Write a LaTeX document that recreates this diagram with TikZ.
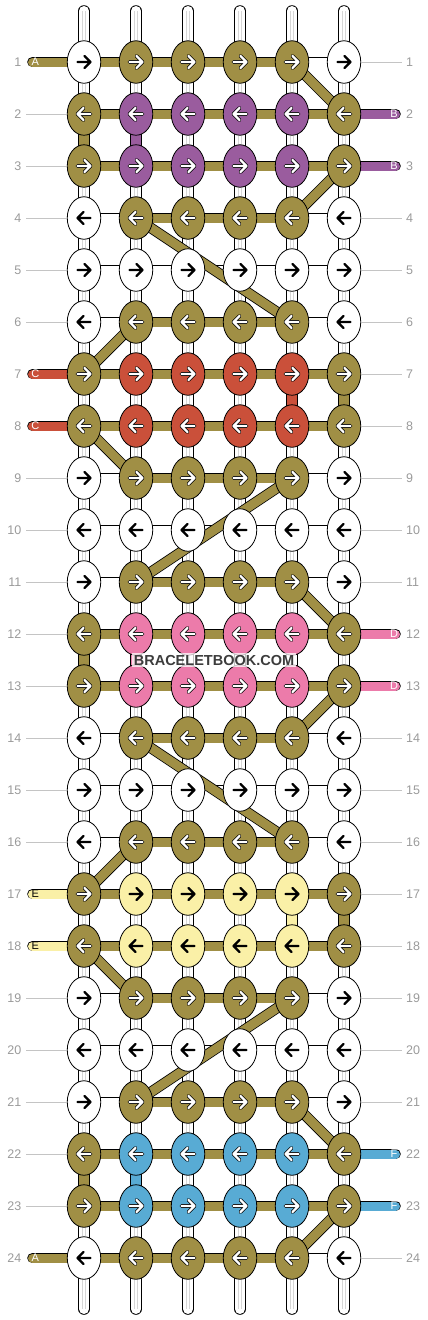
\documentclass[tikz,border=0pt]{standalone}
\usepackage{fontspec}
\setmainfont{Liberation Sans}
\usepackage{tikz}
\usetikzlibrary{shapes.geometric, calc}

\definecolor{cO}{HTML}{A08F45}
\definecolor{cW}{HTML}{FFFFFF}
\definecolor{cP}{HTML}{9A5C9E}
\definecolor{cR}{HTML}{CA503A}
\definecolor{cK}{HTML}{EC7BAA}
\definecolor{cY}{HTML}{FAF0A7}
\definecolor{cB}{HTML}{58ABD4}
% arrow, arrow rim and tag letter per knot colour
\colorlet{aO}{white}\colorlet{aP}{white}\colorlet{aR}{white}\colorlet{aK}{white}\colorlet{aB}{white}
\colorlet{aW}{black}\colorlet{aY}{black}
\colorlet{oO}{black}\colorlet{oP}{black}\colorlet{oR}{black}\colorlet{oK}{black}\colorlet{oB}{black}
\colorlet{oW}{cW}\colorlet{oY}{cY}
\colorlet{tO}{white}\colorlet{tP}{white}\colorlet{tR}{white}\colorlet{tK}{white}\colorlet{tB}{white}
\colorlet{tY}{black}
\definecolor{numgray}{HTML}{9A9A9A}
\definecolor{rulegray}{HTML}{C4C4C4}
\definecolor{stripegray}{HTML}{D6D6D6}
\definecolor{wmgray}{HTML}{3C3C3C}

\pgfdeclarelayer{strands}
\pgfsetlayers{strands,main}

\begin{document}
\begin{tikzpicture}[x=1pt,y=-1pt]
            \tikzstyle{knot}=[ellipse,draw,line width=0.8pt,minimum width=33.5pt,minimum height=42.5pt,inner sep=0pt]
            \tikzstyle{strand}=[draw=black,double=white,double distance=10pt,line width=0.8pt,line cap=round]
            \tikzstyle{stripe}=[stripegray,line width=0.7pt]
            \tikzstyle{vbar}=[draw=black,double distance=10pt,line width=0.8pt]
            \tikzstyle{hbar}=[draw=black,double distance=9pt,line width=0.8pt]
            \tikzstyle{tail}=[hbar,line cap=round]
            \tikzstyle{rownum}=[numgray,inner sep=0pt,font=\fontsize{12.5}{12.5}\selectfont]
            \tikzstyle{tag}=[inner sep=0pt,font=\fontsize{11}{11}\selectfont]
            \tikzstyle{rule}=[rulegray,line width=0.8pt]
            \tikzset{pics/knotarrow/.style={code={
                \draw[draw=o#1,line width=3.6pt,line cap=round,line join=round]
                    (-6.5,0) -- (6.5,0) (0.5,-6) -- (6.5,0) -- (0.5,6);
                \draw[draw=a#1,line width=2.2pt,line cap=round,line join=round]
                    (-6.5,0) -- (6.5,0) (0.5,-6) -- (6.5,0) -- (0.5,6);
            }}}

            \useasboundingbox (0,0) rectangle (428,1320);

            % row / edge knots / middle knots / bar left / bar middle / bar right
            \def\knotrows{1/W/O/O/O/W, 2/O/P/O/O/O, 3/O/P/O/O/O, 4/W/O/W/O/W,
                5/W/W/W/W/W, 6/W/O/W/O/W, 7/O/R/O/O/O, 8/O/R/O/O/O, 9/W/O/W/O/W,
                10/W/W/W/W/W, 11/W/O/W/O/W, 12/O/K/O/O/O, 13/O/K/O/O/O, 14/W/O/W/O/W,
                15/W/W/W/W/W, 16/W/O/W/O/W, 17/O/Y/O/O/O, 18/O/Y/O/O/O, 19/W/O/W/O/W,
                20/W/W/W/W/W, 21/W/O/W/O/W, 22/O/B/O/O/O, 23/O/B/O/O/O, 24/W/O/O/O/W}

            \foreach \r/\kedge/\kmid/\hl/\hm/\hr in \knotrows {
                \pgfmathtruncatemacro\sdir{2*mod(\r,2)-1}
                \foreach \c in {1,...,6} {
                    \ifnum\c=1 \edef\kc{\kedge}\else\ifnum\c=6 \edef\kc{\kedge}\else\edef\kc{\kmid}\fi\fi
                    \node[knot,fill=c\kc] (k-\r-\c) at ({32+52*\c},{10+52*\r}) {};
                    \pic[xscale=\sdir] at (k-\r-\c) {knotarrow=\kc};
                }
            }

            \begin{pgfonlayer}{strands}
                \foreach \c in {1,...,6} {
                    \coordinate (top-\c) at ($(k-1-\c.center)+(0,-51)$);
                    \coordinate (bot-\c) at ($(k-24-\c.center)+(0,51)$);
                    \draw[strand] (top-\c) -- (bot-\c);
                    \draw[stripe] ([xshift=-1.8pt]top-\c) -- ([xshift=-1.8pt]bot-\c)
                        ([xshift=1.8pt]top-\c) -- ([xshift=1.8pt]bot-\c);
                }

                % turns down a column
                \foreach \r/\c/\tc in {2/1/O, 12/1/O, 22/1/O, 7/6/O, 17/6/O,
                        2/2/P, 12/2/K, 22/2/B, 7/5/R, 17/5/Y} {
                    \pgfmathtruncatemacro\rn{\r+1}
                    \draw[vbar,double=c\tc] (k-\r-\c.center) -- (k-\rn-\c.center);
                }

                \foreach \r/\kedge/\kmid/\hl/\hm/\hr in \knotrows {
                    \draw[hbar,double=c\hl] (k-\r-1.center) -- (k-\r-2.center);
                    \draw[hbar,double=c\hm] (k-\r-2.center) -- (k-\r-5.center);
                    \draw[hbar,double=c\hr] (k-\r-5.center) -- (k-\r-6.center);
                }

                \foreach \ra/\ca/\rb/\cb in {1/5/2/6, 3/6/4/5, 4/2/6/5, 6/2/7/1, 8/1/9/2,
                        9/5/11/2, 11/5/12/6, 13/6/14/5, 14/2/16/5, 16/2/17/1, 18/1/19/2,
                        19/5/21/2, 21/5/22/6, 23/6/24/5}
                    \draw[hbar,double=cO] (k-\ra-\ca.center) -- (k-\rb-\cb.center);

                % loose ends
                \foreach \r/\tc/\tg in {1/O/A, 7/R/C, 8/R/C, 17/Y/E, 18/Y/E, 24/O/A} {
                    \coordinate (tailL-\r) at ($(k-\r-1.center)+(-51.5,0)$);
                    \draw[tail,double=c\tc] (k-\r-1.center) -- (tailL-\r);
                    \node[tag,text=t\tc] (tagL-\r) at ($(tailL-\r)+(2.8,0)$) {\tg};
                }
                \foreach \r/\tc/\tg in {2/P/B, 3/P/B, 12/K/D, 13/K/D, 22/B/F, 23/B/F} {
                    \coordinate (tailR-\r) at ($(k-\r-6.center)+(51.5,0)$);
                    \draw[tail,double=c\tc] (k-\r-6.center) -- (tailR-\r);
                    \node[tag,text=t\tc] (tagR-\r) at ($(tailR-\r)+(-1.5,0)$) {\tg};
                }
            \end{pgfonlayer}

            \foreach \r in {1,...,24} {
                \node[rownum,anchor=east] (numL-\r) at ($(k-\r-1.center)+(-62.5,0)$) {\r};
                \node[rownum,anchor=west] (numR-\r) at ($(k-\r-6.center)+(62,0)$) {\r};
            }
            \foreach \r in {2,3,4,5,6,9,10,11,12,13,14,15,16,19,20,21,22,23}
                \draw[rule] ([xshift=4.5pt]numL-\r.east) -- (k-\r-1.west);
            \foreach \r in {1,4,5,6,7,8,9,10,11,14,15,16,17,18,19,20,21,24}
                \draw[rule] (k-\r-6.east) -- ([xshift=-4pt]numR-\r.west);

            \node[fill=white,fill opacity=0.75,text opacity=1,text=wmgray,inner sep=1.5pt,
                font=\bfseries\fontsize{14.5}{14.5}\selectfont] (mark) at (214,660) {BRACELETBOOK.COM};
        \end{tikzpicture}
\end{document}
